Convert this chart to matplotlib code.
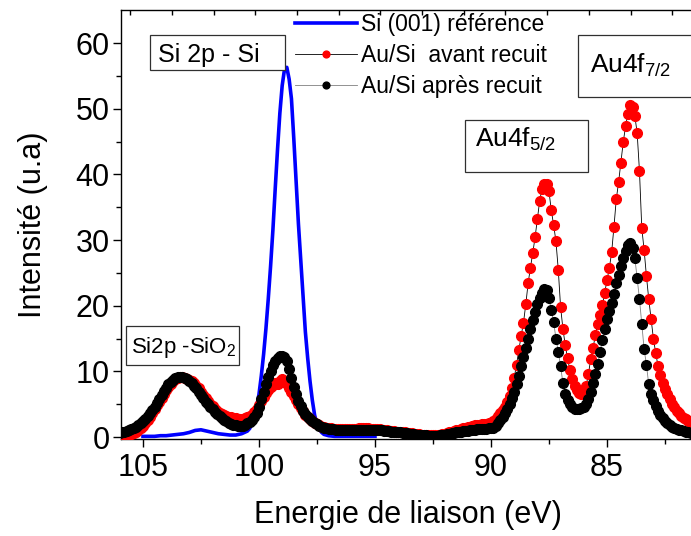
import numpy as np
import matplotlib
matplotlib.use("Agg")
import matplotlib.pyplot as plt
from matplotlib.patches import Rectangle

plt.rcParams['font.family'] = ['Liberation Sans', 'DejaVu Sans']
plt.rcParams['mathtext.fontset'] = 'custom'
plt.rcParams['mathtext.rm'] = 'Liberation Sans'
plt.rcParams['mathtext.it'] = 'Liberation Sans:italic'

# energie de liaison (eV) des spectres Au/Si, pas de 0.1 eV
energie = np.round(np.arange(106.0, 81.25, -0.1), 1)

# Au/Si avant recuit
avant = ([0.1, 0.15, 0.2, 0.25, 0.3, 0.4, 0.6, 0.8, 1.1, 1.4,
          1.7, 2.1, 2.6, 3.1, 3.6, 4.2, 4.8, 5.4, 6.0, 6.6,
          7.1, 7.6, 8.1, 8.5, 8.8, 9.0, 9.1, 9.1, 9.0, 8.9,
          8.7, 8.5, 8.2, 7.8, 7.4, 6.9, 6.4, 5.9, 5.5, 5.1,
          4.7, 4.3, 4.0, 3.7, 3.5, 3.3, 3.2, 3.1, 3.0, 2.9,
          2.9, 2.8, 2.8, 2.8, 2.9]
         + [3.0, 3.2, 3.4, 3.8, 4.3, 4.9, 5.5, 6.1, 6.7, 7.2, 7.6, 7.9, 8.3, 8.0, 8.6,
            8.9, 8.4, 8.0, 7.5, 6.8, 6.2, 5.6, 5.0, 4.4, 3.9, 3.4, 3.0, 2.7, 2.4, 2.2, 2.0]
         + [1.8, 1.6, 1.5, 1.4, 1.35, 1.3, 1.25, 1.2, 1.2, 1.2,
            1.2, 1.2, 1.2, 1.2, 1.2, 1.2, 1.25, 1.3, 1.3, 1.3,
            1.3, 1.3, 1.25, 1.2, 1.2, 1.2, 1.15, 1.1, 1.05, 1.0,
            0.95, 0.9, 0.85, 0.8, 0.8, 0.8, 0.75, 0.7, 0.65, 0.6,
            0.55, 0.5, 0.45, 0.4, 0.35, 0.3, 0.3, 0.3, 0.3, 0.3,
            0.3, 0.3, 0.35, 0.4, 0.5, 0.6, 0.7, 0.8, 0.9, 1.0,
            1.1, 1.2, 1.3, 1.4, 1.5, 1.6, 1.7, 1.8, 1.85, 1.9,
            1.95, 2.0, 2.05, 2.1]
         + [2.2, 2.5, 2.8, 3.2, 3.6, 4.1, 4.6, 5.4, 6.3, 7.5,
            9.0, 11.0, 13.2, 15.4, 17.4, 20.2, 23.4, 25.8, 28.0, 30.4,
            33.2, 36.0, 37.8, 38.5, 38.6, 37.4, 34.5, 32.3, 29.8, 25.5,
            19.8, 16.5, 14.0, 12.0, 10.2, 8.8, 7.8, 7.1, 6.7, 6.6,
            6.9, 7.8, 9.6, 11.9, 13.6, 15.5, 17.2, 18.6, 20.1, 21.9,
            23.9, 25.7, 28.1, 32.0, 36.2, 38.8, 41.8, 44.9, 47.3, 49.2,
            50.6, 50.3, 48.9, 46.3, 40.5, 31.8, 28.5, 24.5, 21.0, 18.0,
            15.0, 12.8, 10.8, 9.4, 8.3, 7.3, 6.5, 5.8, 5.1, 4.5,
            4.0, 3.6, 3.2, 2.9, 2.7, 2.5, 2.3, 2.2])

# Au/Si apres recuit
apres = ([0.6, 0.7, 0.8, 0.9, 1.0, 1.2, 1.4, 1.6, 1.9, 2.2,
          2.5, 2.8, 3.2, 3.6, 4.1, 4.6, 5.2, 5.8, 6.4, 7.0,
          7.5, 8.0, 8.4, 8.7, 9.0, 9.1, 9.2, 9.1, 9.0, 8.8,
          8.5, 8.2, 7.8, 7.4, 6.9, 6.4, 5.9, 5.4, 5.0, 4.6,
          4.2, 3.8, 3.5, 3.2, 2.9, 2.6, 2.4, 2.2, 2.0, 1.9,
          1.8, 1.7, 1.7, 1.7, 1.8]
         + [2.1, 2.3, 2.6, 3.1, 3.7, 4.6, 5.8, 6.9, 8.0, 9.1, 10.1, 10.9, 11.5, 12.0, 12.3,
            12.4, 12.2, 11.5, 10.4, 9.0, 7.6, 6.5, 5.5, 4.7, 4.0, 3.5, 3.1, 2.7, 2.4, 2.2, 2.0]
         + [1.7, 1.5, 1.4, 1.3, 1.25, 1.2, 1.15, 1.1, 1.05, 1.0,
            1.0, 1.0, 1.0, 1.0, 1.0, 1.0, 1.05, 1.1, 1.1, 1.1,
            1.1, 1.1, 1.1, 1.1, 1.05, 1.0, 1.0, 1.0, 0.95, 0.9,
            0.85, 0.8, 0.75, 0.7, 0.7, 0.7, 0.65, 0.6, 0.55, 0.5,
            0.45, 0.4, 0.35, 0.3, 0.3, 0.3, 0.25, 0.2, 0.2, 0.2,
            0.2, 0.2, 0.25, 0.3, 0.35, 0.4, 0.5, 0.6, 0.65, 0.7,
            0.75, 0.8, 0.85, 0.9, 0.95, 1.0, 1.05, 1.1, 1.15, 1.2,
            1.2, 1.2, 1.25, 1.3]
         + [1.3, 1.4, 1.7, 2.1, 2.6, 3.1, 3.6, 4.3, 5.1, 6.0,
            6.9, 8.0, 9.3, 10.8, 12.2, 13.6, 15.0, 16.4, 17.8, 19.1,
            20.2, 21.1, 21.9, 22.5, 22.4, 21.1, 19.3, 17.5, 15.0, 13.0,
            10.8, 8.2, 6.5, 5.6, 5.0, 4.6, 4.3, 4.2, 4.2, 4.4,
            4.6, 5.1, 5.8, 6.9, 8.3, 9.6, 11.1, 12.9, 14.8, 16.4,
            17.9, 19.2, 20.4, 21.8, 23.4, 24.6, 26.0, 27.3, 28.4, 29.2,
            29.5, 28.8, 27.3, 24.2, 21.0, 17.2, 13.4, 11.0, 8.0, 6.6,
            5.6, 4.7, 4.0, 3.4, 2.9, 2.5, 2.1, 1.8, 1.6, 1.4,
            1.2, 1.1, 1.0, 0.9, 0.8, 0.7, 0.6, 0.6])

# Si (001) reference
e_ref = np.concatenate([np.round(np.arange(105.0, 100.45, -0.25), 2),
                        np.round(np.arange(100.4, 96.95, -0.1), 2),
                        np.round(np.arange(96.75, 94.95, -0.25), 2)])
ref = ([0.1, 0.1, 0.1, 0.2, 0.2, 0.3, 0.4, 0.5, 0.7, 1.0, 1.1, 0.9, 0.7, 0.5, 0.4,
        0.3, 0.3, 0.5, 0.9]
       + [1.3, 2.0, 3.0, 4.6, 6.5, 9.3, 12.6, 16.5, 21.0, 26.0,
          31.5, 37.8, 43.8, 49.3, 53.5, 56.0, 56.3, 54.5, 51.5, 45.5,
          39.0, 32.5, 27.0, 21.5, 16.0, 12.0, 8.5, 5.6, 3.3, 2.0,
          1.2, 0.7, 0.4, 0.3, 0.2]
       + [0.1, 0.1, 0.1, 0.1, 0.1, 0.1, 0.1, 0.1])

xticks = [105, 100, 95, 90, 85]
yticks = [0, 10, 20, 30, 40, 50, 60]

W, H = 691, 536
fig = plt.figure(figsize=(W / 100, H / 100), dpi=100)
ax = fig.add_axes([0.175, 0.181, 0.83, 0.800])

ax.plot(e_ref, ref, '-', color='#0000ff', lw=2.6, label='Si (001) référence', zorder=2)
ax.plot(energie, avant, '-o', color='black', lw=0.6, mfc='#ff0000', mec='#ff0000',
        ms=7, label='Au/Si  avant recuit', zorder=3)
ax.plot(energie, apres, '-o', color='#808080', lw=0.6, mfc='black', mec='black',
        ms=7, label='Au/Si après recuit', zorder=4)

ax.set_xlim(105.95, 81.23)
ax.set_ylim(-0.3, 65)
ax.set_xticks(xticks)
ax.set_yticks(yticks)
ax.set_xticks([102.5, 97.5, 92.5, 87.5, 82.5], minor=True)
ax.set_yticks([5, 15, 25, 35, 45, 55], minor=True)
ax.tick_params(which='major', direction='out', length=6, width=1, labelsize=22)
ax.tick_params(axis='x', which='major', pad=4)
ax.tick_params(axis='y', which='major', pad=2)
ax.tick_params(which='minor', direction='out', length=3.5, width=1)
for s in ax.spines.values():
    s.set_linewidth(1)
ax.spines['right'].set_visible(False)

# petites graduations du haut
ax2 = ax.twiny()
ax2.set_xlim(ax.get_xlim())
ax2.set_xticks([98.36 + 1.797 * k for k in range(-9, 5)])
ax2.set_xticklabels([])
ax2.tick_params(axis='x', direction='in', length=3.5, width=1)
for s in ax2.spines.values():
    s.set_visible(False)

ax.set_xlabel('Energie de liaison (eV)', fontsize=22, labelpad=12)
ax.set_ylabel('Intensité (u.a)', fontsize=22, labelpad=20)

leg = ax.legend(loc='upper left', bbox_to_anchor=(295 / W, 1 - 13 / H),
                bbox_transform=fig.transFigure, frameon=False, fontsize=16.5,
                handlelength=2.7, handletextpad=0.2, labelspacing=0.36,
                borderpad=0, borderaxespad=0, markerscale=0.7)

# etiquettes encadrees (pixels)
boxes = [(150, 35, 285, 70), (578, 35, 692, 97), (465, 120, 588, 172), (126, 326, 239, 365)]
for x0, y0, x1, y1 in boxes:
    fig.add_artist(Rectangle((x0 / W, 1 - y1 / H), (x1 - x0) / W, (y1 - y0) / H,
                             transform=fig.transFigure, fill=True, fc='white',
                             ec='#303030', lw=0.9, zorder=5))
fig.text(158 / W, 1 - 62 / H, 'Si 2p - Si', fontsize=18, va='baseline', zorder=6)
fig.text(590 / W, 1 - 73 / H, r'Au4f$_{7/2}$', fontsize=19, va='baseline', zorder=6)
fig.text(475 / W, 1 - 147 / H, r'Au4f$_{5/2}$', fontsize=19, va='baseline', zorder=6)
fig.text(131 / W, 1 - 353 / H, r'Si2p -SiO$_2$', fontsize=16, va='baseline', zorder=6)

fig.savefig('out.png', dpi=100)
